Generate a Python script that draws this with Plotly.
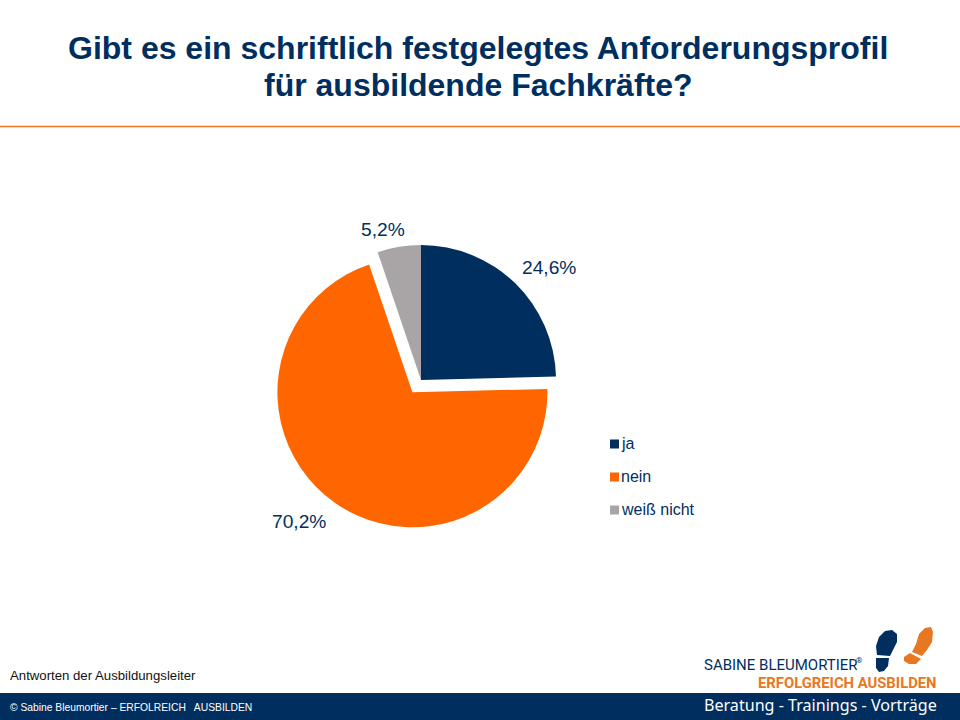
import plotly.graph_objects as go

categories = ["ja", "nein", "weiß nicht"]
values = [24.6, 70.2, 5.2]
pulls = [0, 0.111, 0]
colors = ["#002F5F", "#FF6600", "#A9A5A6"]
title_lines = ["Gibt es ein schriftlich festgelegtes Anforderungsprofil", "für ausbildende Fachkräfte?"]

W, H = 960, 720
NAVY = "#002F5F"
ORANGE = "#E87722"
SANS = "Liberation Sans, Arial, sans-serif"
LOGO = "Roboto, Noto Sans, sans-serif"


def px(x):
    return x / W


def py(y):
    return 1 - y / H


def txt(x, y, s, size, color, anchor="left", font=SANS, bold=False):
    return dict(xref="paper", yref="paper", x=px(x), y=py(y), text=f"<b>{s}</b>" if bold else s,
                showarrow=False, xanchor=anchor, yanchor="middle", borderpad=0, borderwidth=0,
                font=dict(family=font, size=size, color=color))


def path(points, color):
    d = "M" + " L".join(f"{px(a):.5f},{py(b):.5f}" for a, b in points) + " Z"
    return dict(type="path", xref="paper", yref="paper", path=d, fillcolor=color, line=dict(width=0), layer="above")


fig = go.Figure(go.Pie(
    labels=categories, values=values, pull=pulls, sort=False, direction="clockwise", rotation=0,
    marker=dict(colors=colors, line=dict(width=0)),
    textinfo="none", showlegend=False, hoverinfo="label+percent",
    domain=dict(x=[px(271), px(571)], y=[py(530), py(230)]),
))

shapes = [
    dict(type="line", xref="paper", yref="paper", x0=0, x1=1, y0=py(126.5), y1=py(126.5), line=dict(color=ORANGE, width=1.5)),
    dict(type="rect", xref="paper", yref="paper", x0=0, x1=1, y0=0, y1=py(693), fillcolor=NAVY, line=dict(width=0)),
    # footprints of the logo
    path([(877, 655), (876, 646), (879, 637), (885, 631), (892, 630), (897, 634), (897, 642), (893, 650), (890, 656)], NAVY),
    path([(876, 658), (889, 658), (888, 666), (884, 671), (879, 672), (876, 668)], NAVY),
    path([(912, 652), (916, 644), (919, 634), (925, 628), (931, 627), (933, 632), (932, 642), (927, 650), (922, 656)], ORANGE),
    path([(904, 657), (910, 653), (921, 659), (916, 664), (909, 664), (904, 661)], ORANGE),
]
annotations = [
    txt(478, 48, title_lines[0], 32, NAVY, "center", bold=True),
    txt(478, 85, title_lines[1], 32, NAVY, "center", bold=True),
    txt(10, 675, "Antworten der Ausbildungsleiter", 13.2, "#111111"),
    txt(10, 707, "© Sabine Bleumortier – ERFOLREICH&nbsp;&nbsp; AUSBILDEN", 10.3, "#FFFFFF"),
    txt(704, 665, "SABINE BLEUMORTIER", 15, NAVY, font=LOGO),
    txt(937, 683, "ERFOLGREICH AUSBILDEN", 14.8, ORANGE, "right", font=LOGO, bold=True),
    txt(704, 705, "Beratung - Trainings - Vorträge", 16.1, "#FFFFFF", font="Noto Sans"),
]
# slice percentages, written with a decimal comma
label_positions = [(549, 267), (299, 521), (383, 229)]
for v, (lx, ly) in zip(values, label_positions):
    annotations.append(txt(lx, ly, f"{v:.1f}%".replace(".", ","), 19.2, NAVY, "center"))
# key beside the pie
for i, (name, color) in enumerate(zip(categories, colors)):
    yc = 444 + 33 * i
    shapes.append(dict(type="rect", xref="paper", yref="paper", x0=px(610), x1=px(619), y0=py(yc + 4.5), y1=py(yc - 4.5),
                       fillcolor=color, line=dict(width=0)))
    annotations.append(txt(621, yc - 0.5, name, 16, NAVY))

annotations.append(txt(856, 660, "®", 8, NAVY, font=LOGO))

fig.update_layout(
    width=W, height=H, margin=dict(l=0, r=0, t=0, b=0), autosize=False,
    paper_bgcolor="white", plot_bgcolor="white", separators=",.",
    font=dict(family=SANS), shapes=shapes, annotations=annotations,
)
fig.write_html("out.html", config=dict(displayModeBar=False),
               post_script="document.body.style.margin='0';document.body.style.overflow='hidden';")
